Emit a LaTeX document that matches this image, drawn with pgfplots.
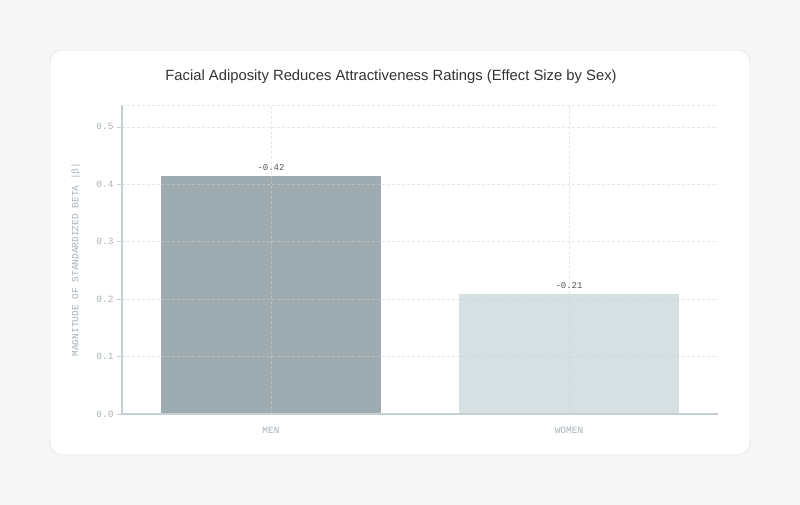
\documentclass[border=0pt]{standalone}
\usepackage{pgfplots}
\pgfplotsset{compat=1.18}
\usepackage{fontspec}
\setmainfont{Liberation Sans}
\newfontfamily\monof{Liberation Mono}
\definecolor{pagebg}{HTML}{F7F7F8}
\definecolor{cardedge}{HTML}{E6E8EA}
\definecolor{axcol}{HTML}{C6D0D4}
\definecolor{gridcol}{HTML}{C8D2D6}
\definecolor{tickcol}{HTML}{A7B3B8}
\definecolor{mencol}{HTML}{9EABB0}
\definecolor{womencol}{HTML}{D6DFE2}
\definecolor{titlecol}{HTML}{333333}
\definecolor{valcol}{HTML}{555555}
\begin{document}
\begin{tikzpicture}[x=1pt,y=1pt]
\fill[pagebg] (0,0) rectangle (800,505);
\fill[white,draw=cardedge,line width=0.8pt,rounded corners=12pt] (50,50) rectangle (750,455);
\node[font=\fontsize{14.8}{17}\selectfont,text=titlecol] at (391,428) {Facial Adiposity Reduces Attractiveness Ratings (Effect Size by Sex)};
\begin{axis}[
  at={(122pt,91pt)}, anchor=south west,
  scale only axis,
  width=596pt, height=309pt,
  xmin=-0.5, xmax=1.5,
  ymin=0, ymax=0.538,
  xtick={0,1},
  xticklabels={MEN,WOMEN},
  ytick={0,0.1,0.2,0.3,0.4,0.5},
  yticklabel style={/pgf/number format/.cd,fixed,fixed zerofill,precision=1},
  /pgf/number format/assume math mode=true,
  ticklabel style={font=\monof\fontsize{9.5}{11}\selectfont,text=tickcol},
  xticklabel style={yshift=-5pt},
  axis x line*=bottom,
  axis y line*=left,
  axis line style={axcol,line width=1.6pt,-},
  major tick length=5pt,
  xtick style={draw=none},
  ytick style={axcol,line width=0.6pt},
  tick align=outside,
  ymajorgrids, xmajorgrids,
  grid style={gridcol,opacity=0.5,line width=0.6pt,dash pattern=on 2.5pt off 2.5pt},
  ylabel={MAGNITUDE OF STANDARDIZED BETA |β|},
  ylabel style={font=\monof\fontsize{9.5}{11}\selectfont,text=tickcol,at={(axis description cs:0,0.5)},anchor=center,yshift=46pt},
  ybar, bar width=220pt,
  axis on top,
  nodes near coords,
  point meta=explicit symbolic,
  every node near coord/.append style={font=\monof\fontsize{9}{11}\selectfont,text=valcol,yshift=2pt},
]
\addplot[fill=mencol,draw=none,bar shift=0pt] coordinates {(0,0.415) [-0.42]};
\addplot[fill=womencol,draw=none,bar shift=0pt] coordinates {(1,0.209) [-0.21]};
\draw[gridcol,opacity=0.5,line width=0.6pt,dash pattern=on 2.5pt off 2.5pt] (rel axis cs:0,1) -- (rel axis cs:1,1) -- (rel axis cs:1,0);
\end{axis}
\end{tikzpicture}
\end{document}
